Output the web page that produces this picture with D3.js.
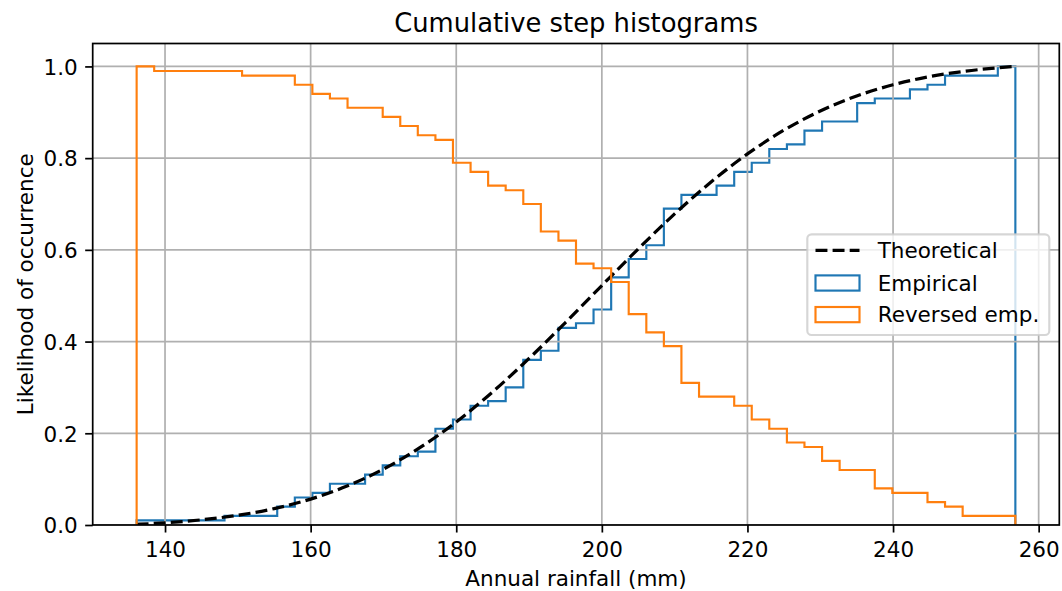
<!DOCTYPE html>
<html>
<head>
<meta charset="utf-8">
<script src="https://cdn.jsdelivr.net/npm/d3@7"></script>
<style>
  html, body { margin: 0; padding: 0; background: #fff; }
  svg { display: block; font-family: "DejaVu Sans", sans-serif; }
</style>
</head>
<body>
<svg id="chart" width="1062" height="591"></svg>
<script>
// ---------------- data ----------------
const binEdges = [136.10, 138.51, 140.93, 143.34, 145.76, 148.17, 150.58, 153.00, 155.41, 157.83,
  160.24, 162.65, 165.07, 167.48, 169.90, 172.31, 174.72, 177.14, 179.55, 181.97,
  184.38, 186.79, 189.21, 191.62, 194.04, 196.45, 198.86, 201.28, 203.69, 206.11,
  208.52, 210.93, 213.35, 215.76, 218.18, 220.59, 223.00, 225.42, 227.83, 230.25,
  232.66, 235.07, 237.49, 239.90, 242.32, 244.73, 247.14, 249.56, 251.97, 254.39, 256.80];

const empirical = [0.01, 0.01, 0.01, 0.01, 0.01, 0.02, 0.02, 0.02, 0.04, 0.06,
  0.07, 0.09, 0.09, 0.11, 0.13, 0.15, 0.16, 0.21, 0.23, 0.26,
  0.27, 0.30, 0.36, 0.38, 0.43, 0.44, 0.47, 0.54, 0.58, 0.61,
  0.69, 0.72, 0.72, 0.74, 0.77, 0.79, 0.82, 0.83, 0.86, 0.88,
  0.88, 0.92, 0.93, 0.93, 0.95, 0.96, 0.98, 0.98, 0.98, 1.00];

const reversedEmp = [1.00, 0.99, 0.99, 0.99, 0.99, 0.99, 0.98, 0.98, 0.98, 0.96,
  0.94, 0.93, 0.91, 0.91, 0.89, 0.87, 0.85, 0.84, 0.79, 0.77,
  0.74, 0.73, 0.70, 0.64, 0.62, 0.57, 0.56, 0.53, 0.46, 0.42,
  0.39, 0.31, 0.28, 0.28, 0.26, 0.23, 0.21, 0.18, 0.17, 0.14,
  0.12, 0.12, 0.08, 0.07, 0.07, 0.05, 0.04, 0.02, 0.02, 0.02];

const theoX = [136.1, 140, 145, 150, 155, 160, 165, 170, 175, 180, 185, 190, 195,
  200, 205, 210, 215, 220, 225, 230, 235, 240, 245, 250, 256.8];
const theoY = [0.0015, 0.0048, 0.0113, 0.0212, 0.0358, 0.0565, 0.0849, 0.1219, 0.1685,
  0.2247, 0.2902, 0.3632, 0.4415, 0.5222, 0.6022, 0.6784, 0.7480, 0.8092, 0.8609,
  0.9028, 0.9355, 0.9600, 0.9777, 0.9898, 1.0];

const xTicks = [140, 160, 180, 200, 220, 240, 260];
const yTicks = [0.0, 0.2, 0.4, 0.6, 0.8, 1.0];

const titleText = "Cumulative step histograms";
const xLabelText = "Annual rainfall (mm)";
const yLabelText = "Likelihood of occurrence";
const legendLabels = ["Theoretical", "Empirical", "Reversed emp."];

// ---------------- layout ----------------
const plot = { left: 92.7, right: 1059.3, top: 43.5, bottom: 525 };
const fs = 21.5;           // 10pt
const pt = fs / 10;        // px per point
const blue = "#1f77b4", orange = "#ff7f0e";

const xMinData = binEdges[0], xMaxData = binEdges[binEdges.length - 1];
const pad = (xMaxData - xMinData) * 0.05;
const x = d3.scaleLinear().domain([xMinData - pad, xMaxData + pad]).range([plot.left, plot.right]);
const y = d3.scaleLinear().domain([0, 1.05]).range([plot.bottom, plot.top]);

const svg = d3.select("#chart");

svg.append("defs").append("clipPath").attr("id", "clip")
  .append("rect").attr("x", plot.left).attr("y", plot.top)
  .attr("width", plot.right - plot.left).attr("height", plot.bottom - plot.top);

const stepLine = d3.line().x(d => x(d[0])).y(d => y(d[1])).curve(d3.curveStepAfter);
function stepPoints(vals) {
  const pts = [[binEdges[0], 0]];
  vals.forEach((v, i) => pts.push([binEdges[i], v]));
  pts.push([binEdges[binEdges.length - 1], vals[vals.length - 1]]);
  pts.push([binEdges[binEdges.length - 1], 0]);
  return pts;
}

const g = svg.append("g").attr("clip-path", "url(#clip)");

// empirical (patch, zorder 1)
g.append("path").attr("d", stepLine(stepPoints(empirical)))
  .attr("fill", "none").attr("stroke", blue).attr("stroke-width", 1.0 * pt)
  .attr("stroke-linejoin", "miter");

// grid (zorder 1.5)
const grid = svg.append("g").attr("clip-path", "url(#clip)");
grid.selectAll("line.gx").data(xTicks).join("line")
  .attr("x1", d => x(d)).attr("x2", d => x(d))
  .attr("y1", plot.top).attr("y2", plot.bottom)
  .attr("stroke", "#b0b0b0").attr("stroke-width", 0.8 * pt);
grid.selectAll("line.gy").data(yTicks).join("line")
  .attr("x1", plot.left).attr("x2", plot.right)
  .attr("y1", d => y(d)).attr("y2", d => y(d))
  .attr("stroke", "#b0b0b0").attr("stroke-width", 0.8 * pt);

// reversed (patch) - drawn; theoretical line on top order per original
const g2 = svg.append("g").attr("clip-path", "url(#clip)");
const theoLine = d3.line().x(d => x(d[0])).y(d => y(d[1])).curve(d3.curveMonotoneX);
g2.append("path").attr("d", theoLine(theoX.map((v, i) => [v, theoY[i]])))
  .attr("fill", "none").attr("stroke", "#000").attr("stroke-width", 1.5 * pt)
  .attr("stroke-dasharray", `${3.7 * 1.5 * pt},${1.6 * 1.5 * pt}`);
g2.append("path").attr("d", stepLine(stepPoints(reversedEmp)))
  .attr("fill", "none").attr("stroke", orange).attr("stroke-width", 1.0 * pt)
  .attr("stroke-linejoin", "miter");

// spines
const spine = svg.append("g").attr("stroke", "#000").attr("stroke-width", 0.8 * pt).attr("fill", "none");
spine.append("rect").attr("x", plot.left).attr("y", plot.top)
  .attr("width", plot.right - plot.left).attr("height", plot.bottom - plot.top)
  .attr("stroke-linejoin", "miter");

// axes via d3 axis
const tickLen = 3.5 * pt, tickPad = 3.5 * pt;
const xAxis = d3.axisBottom(x).tickValues(xTicks).tickFormat(d3.format("d"))
  .tickSizeInner(tickLen).tickSizeOuter(0).tickPadding(tickPad);
const xg = svg.append("g").attr("transform", `translate(0,${plot.bottom})`).call(xAxis);
const yAxis = d3.axisLeft(y).tickValues(yTicks).tickFormat(d3.format(".1f"))
  .tickSizeInner(tickLen).tickSizeOuter(0).tickPadding(tickPad);
const yg = svg.append("g").attr("transform", `translate(${plot.left},0)`).call(yAxis);
[xg, yg].forEach(a => {
  a.select(".domain").remove();
  a.selectAll(".tick line").attr("stroke", "#000").attr("stroke-width", 0.8 * pt);
  a.selectAll(".tick text").attr("fill", "#000").attr("font-size", fs)
    .attr("font-family", "DejaVu Sans");
});
xg.selectAll(".tick text").attr("dy", null).attr("y", 556.7 - plot.bottom);
yg.selectAll(".tick text").attr("dy", "0.36em");

// title & labels
svg.append("text").attr("x", (plot.left + plot.right) / 2).attr("y", 31.7)
  .attr("text-anchor", "middle").attr("font-size", 1.2 * fs).attr("fill", "#000").text(titleText);
svg.append("text").attr("x", (plot.left + plot.right) / 2).attr("y", 586)
  .attr("text-anchor", "middle").attr("font-size", fs).attr("fill", "#000").text(xLabelText);
svg.append("text").attr("transform", `translate(33,${(plot.top + plot.bottom) / 2}) rotate(-90)`)
  .attr("text-anchor", "middle").attr("font-size", fs).attr("fill", "#000").text(yLabelText);

// legend
const lg = svg.append("g");
lg.append("rect").attr("x", 807.3).attr("y", 234.3).attr("width", 1049.3 - 807.3).attr("height", 335 - 234.3)
  .attr("rx", 4.3).attr("ry", 4.3)
  .attr("fill", "#fff").attr("fill-opacity", 0.8)
  .attr("stroke", "#cccccc").attr("stroke-opacity", 0.8).attr("stroke-width", 1.0 * pt);
const hx0 = 815.5, hx1 = 859.5, rowY = [250.3, 283, 314.6];
lg.append("line").attr("x1", hx0).attr("x2", hx1).attr("y1", rowY[0]).attr("y2", rowY[0])
  .attr("stroke", "#000").attr("stroke-width", 1.5 * pt)
  .attr("stroke-dasharray", `${3.7 * 1.5 * pt},${1.6 * 1.5 * pt}`);
[[blue, rowY[1]], [orange, rowY[2]]].forEach(([c, cy]) => {
  lg.append("rect").attr("x", hx0).attr("y", cy - 7.6).attr("width", hx1 - hx0).attr("height", 15.2)
    .attr("fill", "none").attr("stroke", c).attr("stroke-width", 1.0 * pt);
});
lg.selectAll("text.leg").data(legendLabels).join("text")
  .attr("x", 877.7).attr("y", (d, i) => rowY[i]).attr("dy", "0.36em")
  .attr("font-size", fs).attr("fill", "#000").text(d => d);
</script>
</body>
</html>
